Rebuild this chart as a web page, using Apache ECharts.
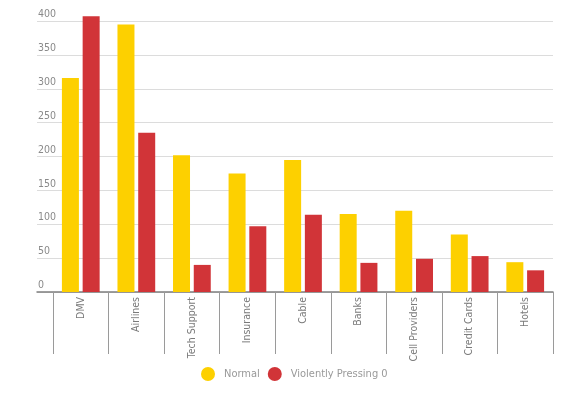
<!DOCTYPE html>
<html>
<head>
<meta charset="utf-8">
<script src="https://cdn.jsdelivr.net/npm/echarts@6/dist/echarts.min.js"></script>
<style>
html,body{margin:0;padding:0;background:#fff;}
#chart{width:587px;height:395px;}
</style>
</head>
<body>
<div id="chart"></div>
<script>
const categories = ['DMV','Airlines','Tech Support','Insurance','Cable','Banks','Cell Providers','Credit Cards','Hotels'];
const normalValues = [316, 395, 202, 175, 195, 115, 120, 85, 44];
const pressingValues = [407, 235, 40, 97, 114, 43, 49, 53, 32];
const seriesNames = ['Normal', 'Violently Pressing 0'];
const yTicks = { min: 0, max: 400, interval: 50 };

const FONT = "'Liberation Sans Narrow', 'DejaVu Sans Condensed', sans-serif";
const chart = echarts.init(document.getElementById('chart'), null, {renderer: 'canvas'});
const option = {
  backgroundColor: '#ffffff',
  animation: false,
  color: ['#FDD000', '#D13438'],
  textStyle: { fontFamily: FONT },
  legend: {
    data: seriesNames,
    left: 201,
    top: 367,
    padding: 0,
    icon: 'circle',
    itemWidth: 14,
    itemHeight: 14,
    itemGap: 8,
    textStyle: { color: '#999999', fontSize: 11, fontFamily: FONT, padding: [0, 0, 0, 4] }
  },
  grid: [
    { left: 37, right: 34, top: 21, bottom: 103, containLabel: false },
    { left: 53, right: 34, top: 21, bottom: 103, containLabel: false }
  ],
  xAxis: [
    {
      gridIndex: 0, type: 'value', min: 0, max: 1,
      axisLine: { show: true, lineStyle: { color: '#7f7f7f', width: 1.5 } },
      axisTick: { show: false }, axisLabel: { show: false }, splitLine: { show: false }
    },
    {
      gridIndex: 1, type: 'category', data: categories, boundaryGap: true,
      axisLine: { show: false },
      axisTick: { show: true, interval: 0, length: 62, lineStyle: { color: '#9a9a9a', width: 1 } },
      axisLabel: { interval: 0, rotate: 90, margin: 5, color: '#7a7a7a', fontSize: 10.5, fontFamily: FONT }
    }
  ],
  yAxis: [
    {
      gridIndex: 0, type: 'value', min: yTicks.min, max: yTicks.max, interval: yTicks.interval,
      axisLine: { show: false }, axisTick: { show: false },
      axisLabel: { inside: true, margin: 1, align: 'left', verticalAlign: 'bottom', color: '#8a8a8a', fontSize: 10.5, fontFamily: FONT, padding: [0, 0, 1, 0] },
      splitLine: { show: true, lineStyle: { color: '#dcdcdc', width: 1 } }
    },
    {
      gridIndex: 1, type: 'value', min: yTicks.min, max: yTicks.max, interval: yTicks.interval,
      show: false, splitLine: { show: false }
    }
  ],
  series: [
    { name: seriesNames[0], type: 'bar', xAxisIndex: 1, yAxisIndex: 1, data: normalValues, barWidth: 17, barGap: '22%', clip: false },
    { name: seriesNames[1], type: 'bar', xAxisIndex: 1, yAxisIndex: 1, data: pressingValues, barWidth: 17, barGap: '22%', clip: false }
  ]
};
chart.setOption(option);
</script>
</body>
</html>
